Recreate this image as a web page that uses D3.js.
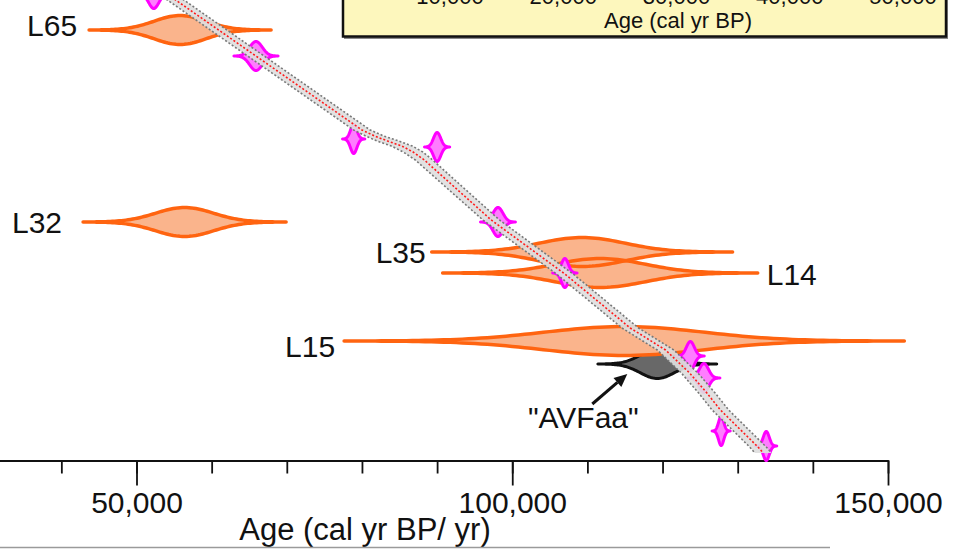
<!DOCTYPE html>
<html>
<head>
<meta charset="utf-8">
<script src="https://cdn.jsdelivr.net/npm/d3@7"></script>
<style>
  html, body { margin: 0; padding: 0; background: #fff; overflow: hidden; }
  svg { display: block; font-family: "Liberation Sans", Arial, Helvetica, sans-serif; }
</style>
</head>
<body>
<svg id="chart" width="958" height="550"></svg>
<script>
// ---- Luminescence ages (orange), age in cal yr BP, depth in m ----
const lumLabels = ["L65", "L32", "L35", "L14", "L15"];
const lumAge    = [55800, 56400, 109300, 111700, 114900];
const lumSigma  = [3460, 3860, 5720, 5990, 10650];
const lumDepth  = [5.60, 9.44, 10.04, 10.46, 11.82];

// ---- Magenta ages ----
const pinkAge   = [52300, 65900, 78900, 90000, 98100, 107000, 123700, 125500, 127800, 133800];
const pinkSigma = [665, 840, 425, 480, 665, 465, 530, 610, 345, 400];
const pinkDepth = [4.88, 6.12, 7.78, 7.94, 9.44, 10.46, 12.12, 12.56, 13.62, 13.92];

// ---- "AVFaa" ----
const avfLabel = "\"AVFaa\"";
const avfAge = 119300, avfSigma = 2260, avfDepth = 12.28;

// ---- Age-depth model: median and range ----
const modelDepth = [4.80, 7.60, 7.72, 7.82, 7.92, 8.04, 8.20, 9.40, 10.48, 11.56, 12.00, 12.46, 12.86, 13.20, 13.94, 14.06];
const modelAge   = [53300, 80000, 81700, 83400, 85300, 86800, 88300, 97200, 107000, 115700, 120400, 123600, 125900, 127700, 132700, 133400];
const modelMin   = [52200, 78900, 80500, 82000, 83900, 85500, 87100, 96100, 105900, 114600, 119300, 122500, 124800, 126600, 131600, 132300];
const modelMax   = [54400, 81100, 82900, 84900, 86700, 88100, 89400, 98300, 108100, 116800, 121500, 124700, 127000, 128800, 133800, 134500];

// ---- Axis ticks ----
const minorTicks = [40000, 50000, 60000, 70000, 80000, 90000, 100000, 110000, 120000, 130000, 140000, 150000];
const majorTicks = [50000, 100000, 150000];
const insetTicks = [10000, 20000, 30000, 40000, 50000];
const xTitle = "Age (cal yr BP/ yr)";
const insetTitle = "Age (cal yr BP)";

// ---- Layout ----
const svg = d3.select("#chart");
const axisY = 460.5;
const peakH = 14.5;   // half-height of every distribution at its peak

const x = d3.scaleLinear().domain([30000, 150000]).range([-13.8, 888]);
const y = d3.scaleLinear().domain([5, 14.2]).range([0, 460]);
const xInset = d3.scaleLinear().domain([10000, 50000]).range([450, 903]);

// ---- Inset panel (lower part of a second age axis) ----
const inset = svg.append("g");
inset.append("rect").attr("x", 344).attr("y", -10).attr("width", 604).attr("height", 49)
  .attr("fill", "#8a8a8a");
inset.append("rect").attr("x", 343).attr("y", -10).attr("width", 603).attr("height", 46.5)
  .attr("fill", "#fdf7bd").attr("stroke", "#111").attr("stroke-width", 2.5);
inset.selectAll("text.tick").data(insetTicks).join("text")
  .attr("class", "tick")
  .attr("x", d => xInset(d)).attr("y", 4)
  .attr("text-anchor", "middle").attr("font-size", 22).attr("fill", "#111")
  .text(d3.format(","));
inset.append("text").attr("x", 678).attr("y", 27.5)
  .attr("text-anchor", "middle").attr("font-size", 22).attr("fill", "#111")
  .text(insetTitle);

// ---- Bottom x axis ----
const minorAxis = d3.axisBottom(x).tickValues(minorTicks).tickSize(13).tickSizeOuter(0).tickFormat("");
const majorAxis = d3.axisBottom(x).tickValues(majorTicks).tickSize(25).tickSizeOuter(0)
  .tickPadding(6).tickFormat(d3.format(","));

const gMinor = svg.append("g").attr("transform", `translate(0,${axisY})`).call(minorAxis);
const gMajor = svg.append("g").attr("transform", `translate(0,${axisY})`).call(majorAxis);
[gMinor, gMajor].forEach(g => {
  g.selectAll("path.domain").attr("stroke", "#111").attr("stroke-width", 2);
  g.selectAll(".tick line").attr("stroke", "#111").attr("stroke-width", 1.8);
});
gMajor.selectAll(".tick text").attr("font-size", 30).attr("fill", "#111")
  .attr("font-family", "'Liberation Sans', Arial, sans-serif");

svg.append("text").attr("x", 365).attr("y", 540)
  .attr("text-anchor", "middle").attr("font-size", 31).attr("fill", "#111")
  .text(xTitle);

// thin grey rule at the very bottom
svg.append("line").attr("x1", 0).attr("x2", 830).attr("y1", 547.5).attr("y2", 547.5)
  .attr("stroke", "#9a9a9a").attr("stroke-width", 1.5);

// ---- Probability distributions drawn as mirrored Gaussian outlines ----
function distPoints(age, sigma) {
  const n = 90, pts = [];
  for (let i = 0; i <= n; i++) {
    const z = -3.5 + 7 * i / n;
    pts.push({ a: age + z * sigma, h: peakH * Math.exp(-z * z / 2) });
  }
  return pts;
}
function distPath(age, sigma, depth) {
  const cy = y(depth);
  return d3.area()
    .x(p => x(p.a))
    .y0(p => cy - p.h)
    .y1(p => cy + p.h)(distPoints(age, sigma));
}

// "AVFaa" sits underneath the L15 distribution
svg.append("path")
  .attr("d", distPath(avfAge, avfSigma, avfDepth))
  .attr("fill", "#686868").attr("stroke", "#111").attr("stroke-width", 3)
  .attr("stroke-linejoin", "round").attr("stroke-linecap", "round");

const lum = lumLabels.map((l, i) => ({ label: l, age: lumAge[i], sigma: lumSigma[i], depth: lumDepth[i] }));
svg.append("g").selectAll("path").data(lum).join("path")
  .attr("d", d => distPath(d.age, d.sigma, d.depth))
  .attr("fill", "#fab48c").attr("stroke", "none");
svg.append("g").selectAll("path").data(lum).join("path")
  .attr("d", d => distPath(d.age, d.sigma, d.depth))
  .attr("fill", "none").attr("stroke", "#ff6410").attr("stroke-width", 3.5)
  .attr("stroke-linejoin", "round").attr("stroke-linecap", "round");

const pink = pinkAge.map((a, i) => ({ age: a, sigma: pinkSigma[i], depth: pinkDepth[i] }));
svg.append("g").selectAll("path").data(pink).join("path")
  .attr("d", d => distPath(d.age, d.sigma, d.depth))
  .attr("fill", "#ff7dff").attr("stroke", "#ff00ff").attr("stroke-width", 3)
  .attr("stroke-linejoin", "round").attr("stroke-linecap", "round");

// ---- Age-depth model envelope and median ----
const model = modelDepth.map((d, i) => ({ d, med: modelAge[i], lo: modelMin[i], hi: modelMax[i] }));
const curve = d3.curveLinear;
svg.append("path")
  .attr("d", d3.area().curve(curve).y(p => y(p.d)).x0(p => x(p.lo)).x1(p => x(p.hi))(model))
  .attr("fill", "#dedede").attr("fill-opacity", 0.92);
const edge = acc => d3.line().curve(curve).x(p => x(acc(p))).y(p => y(p.d))(model);
[p => p.lo, p => p.hi].forEach(acc => {
  svg.append("path").attr("d", edge(acc))
    .attr("fill", "none").attr("stroke", "#777").attr("stroke-width", 1.6)
    .attr("stroke-dasharray", "2,2");
});
svg.append("path").attr("d", edge(p => p.med))
  .attr("fill", "none").attr("stroke", "#ff1a1a").attr("stroke-width", 1.6)
  .attr("stroke-dasharray", "2,2");

// ---- Labels ----
const labelPlace = {
  L65: { side: "left", gap: 12, dy: 6 },
  L32: { side: "left", gap: 21, dy: 10.5 },
  L35: { side: "left", gap: 6, dy: 11 },
  L14: { side: "right", gap: 9, dy: 12 },
  L15: { side: "left", gap: 9, dy: 16 }
};
svg.append("g").selectAll("text").data(lum).join("text")
  .attr("x", d => {
    const p = labelPlace[d.label];
    return p.side === "left" ? x(d.age - 3.5 * d.sigma) - p.gap : x(d.age + 3.5 * d.sigma) + p.gap;
  })
  .attr("y", d => y(d.depth) + labelPlace[d.label].dy)
  .attr("text-anchor", d => labelPlace[d.label].side === "left" ? "end" : "start")
  .attr("font-size", 30).attr("fill", "#111")
  .text(d => d.label);

// "AVFaa" label with arrow pointing to its distribution
const ax = x(avfAge), ay = y(avfDepth);
const tip = [ax - 30, ay + 10], tail = [ax - 65, ay + 40];
const ang = Math.atan2(tip[1] - tail[1], tip[0] - tail[0]);
const headLen = 13, headW = 6;
const base = [tip[0] - headLen * Math.cos(ang), tip[1] - headLen * Math.sin(ang)];
svg.append("line")
  .attr("x1", tail[0]).attr("y1", tail[1]).attr("x2", base[0]).attr("y2", base[1])
  .attr("stroke", "#111").attr("stroke-width", 3);
svg.append("path")
  .attr("d", d3.line()([
    tip,
    [base[0] + headW * Math.sin(ang), base[1] - headW * Math.cos(ang)],
    [base[0] - headW * Math.sin(ang), base[1] + headW * Math.cos(ang)]
  ]) + "Z")
  .attr("fill", "#111");
svg.append("text").attr("x", ax - 74).attr("y", ay + 64)
  .attr("text-anchor", "middle").attr("font-size", 30).attr("fill", "#111")
  .text(avfLabel);
</script>
</body>
</html>
